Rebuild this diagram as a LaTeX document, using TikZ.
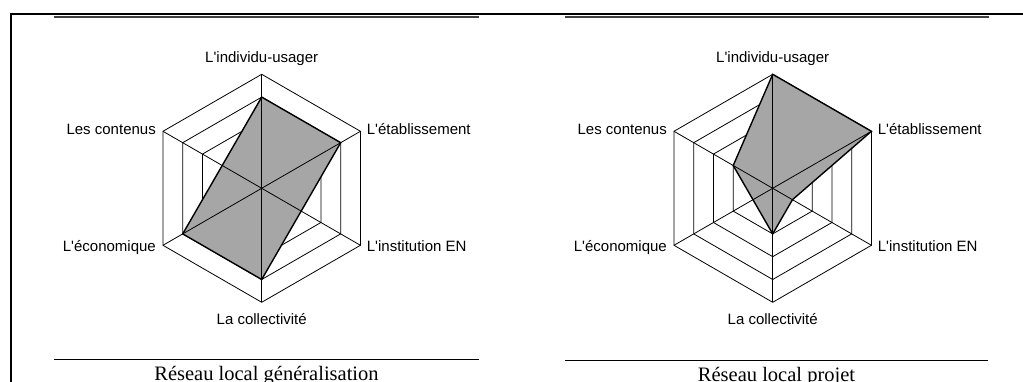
\documentclass[tikz,border=0pt]{standalone}
\usepackage{fontspec}
\setmainfont{Liberation Serif}
\newfontfamily\labfont{Liberation Sans}
\definecolor{areagray}{HTML}{A6A6A6}
\definecolor{rulegray}{HTML}{404040}
% #1 prefix, #2 centre x, #3 polygon path (polar points, unit = one ring)
\newcommand\radarchart[3]{%
 \begin{scope}[shift={(#2,193.7)}]
  \foreach \r in {1,...,5}
    \draw[ring] (90:{\r*22.8}) -- (30:{\r*22.8}) -- (-30:{\r*22.8}) -- (-90:{\r*22.8}) -- (-150:{\r*22.8}) -- (150:{\r*22.8}) -- cycle;
  \fill[areagray] #3 -- cycle;
  \foreach \a in {90,30,...,-210}
    \draw[axisline] (0,0) -- (\a:114);
  \draw[polyline] #3 -- cycle;
  \node[lab, anchor=base] (#1-top) at (0,126) {L'individu-usager};
  \node[lab, anchor=base west] (#1-ne) at (105,53.3) {L'établissement};
  \node[lab, anchor=base west] (#1-se) at (105,-63.4) {L'institution EN};
  \node[lab, anchor=base] (#1-bot) at (0,-136) {La collectivité};
  \node[lab, anchor=base east] (#1-sw) at (-105.7,-63.4) {L'économique};
  \node[lab, anchor=base east] (#1-nw) at (-105.7,53.3) {Les contenus};
 \end{scope}}
\begin{document}
\begin{tikzpicture}[x=1pt,y=1pt,
  lab/.style={inner sep=0pt, font=\labfont\fontsize{15}{18}\selectfont},
  capt/.style={inner sep=0pt, anchor=base, font=\fontsize{20.5}{24}\selectfont},
  ring/.style={line width=0.8pt, line join=miter},
  axisline/.style={line width=0.8pt},
  polyline/.style={draw=black, line width=1.4pt, line join=miter},
  frame/.style={line width=2pt},
  toprule/.style={draw=rulegray, line width=1.8pt},
  botrule/.style={line width=1pt}
]
\useasboundingbox (0,0) rectangle (1023,382);
% frame
\draw[frame] (11,-2) -- (11,368) -- (1025,368);
\draw[toprule] (54,365.3) -- (479,365.3);
\draw[toprule] (565,365.3) -- (989,365.3);
\draw[botrule] (54,22.5) -- (479,22.5);
\draw[botrule] (565,21) -- (988,21);
% charts
\radarchart{A}{261.7}{(90:{4*22.8}) -- (30:{4*22.8}) -- (-90:{4*22.8}) -- (-150:{4*22.8})}
\radarchart{B}{772.7}{(90:{5*22.8}) -- (30:{5*22.8}) -- (-30:{1*22.8}) -- (-90:{2*22.8}) -- (150:{2*22.8})}
% captions
\node[capt] (capA) at (266.5,1.3) {Réseau local généralisation};
\node[capt] (capB) at (776.5,0.5) {Réseau local projet};
\end{tikzpicture}
\end{document}
